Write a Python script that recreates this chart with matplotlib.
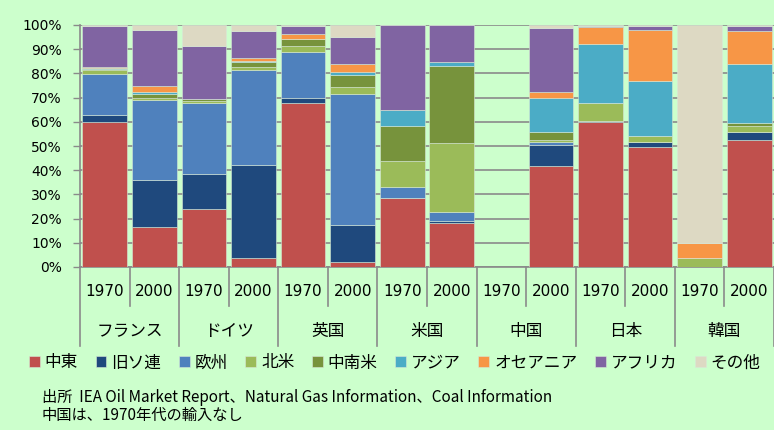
import matplotlib
matplotlib.use("Agg")
import matplotlib.pyplot as plt
import numpy as np

# bar order: France, Germany, UK, US, China, Japan, Korea (1970 / 2000 each)
countries = ["フランス", "ドイツ", "英国", "米国", "中国", "日本", "韓国"]
years = ["1970", "2000"]
regions = ["中東", "旧ソ連", "欧州", "北米", "中南米", "アジア", "オセアニア", "アフリカ", "その他"]

middle_east = [60.0, 16.4, 23.9, 3.9, 67.9, 2.1, 28.4, 18.2, 0, 41.7, 60.0, 49.5, 0, 52.4]
former_ussr = [2.8, 19.5, 14.7, 38.2, 1.8, 15.4, 0, 0.8, 0, 8.9, 0.4, 2.2, 0, 3.5]
europe = [17.1, 33.1, 29.3, 39.3, 19.3, 53.8, 4.6, 3.8, 0, 1.1, 0, 0, 0, 0]
north_america = [1.5, 0.9, 0.7, 1.4, 2.3, 2.9, 11.0, 28.6, 0, 0.7, 7.2, 2.4, 3.9, 2.3]
latin_america = [0.4, 1.7, 0.9, 2.0, 2.8, 5.1, 14.2, 31.8, 0, 3.5, 0, 0, 0, 1.1]
asia = [0.5, 0.7, 0, 0.2, 0, 1.1, 6.6, 1.4, 0, 13.8, 24.7, 22.9, 0, 24.4]
oceania = [0.5, 2.5, 0, 1.2, 2.3, 3.5, 0, 0, 0, 2.7, 7.0, 21.1, 6.0, 14.0]
africa = [16.9, 23.3, 21.7, 11.5, 3.3, 11.3, 35.2, 15.4, 0, 26.2, 0.4, 1.6, 0, 2.0]
others = [0.3, 1.9, 8.8, 2.3, 0.3, 4.8, 0, 0, 0, 1.4, 0.3, 0.3, 90.1, 0.3]

series = [middle_east, former_ussr, europe, north_america, latin_america,
          asia, oceania, africa, others]
colors = ["#C0504D", "#1F497D", "#4F81BD", "#9BBB59", "#77933C",
          "#4BACC6", "#F79646", "#8064A2", "#DDD9C3"]

bg = "#CCFFCC"
grid_c = "#8A8A8A"
jp = ["Noto Sans CJK JP", "DejaVu Sans"]

fig = plt.figure(figsize=(7.74, 4.30), dpi=100, facecolor=bg)
ax = fig.add_axes([80 / 774, 1 - 267 / 430, 1 - 80 / 774, 242 / 430])
ax.set_facecolor(bg)

x = np.arange(len(middle_east))
bottom = np.zeros(len(x))
handles = []
for vals, c, name in zip(series, colors, regions):
    v = np.array(vals, dtype=float)
    b = ax.bar(x, v, bottom=bottom, width=0.9, color=c, edgecolor="#d8e8d8",
               linewidth=0.4, label=name, zorder=3)
    handles.append(b)
    bottom += v

ax.set_xlim(-0.5, len(x) - 0.5)
ax.set_ylim(0, 100)
ax.set_yticks(np.arange(0, 101, 10))
ax.set_yticklabels([f"{t}%" for t in range(0, 101, 10)], fontsize=10, family="DejaVu Sans")
ax.yaxis.grid(True, color=grid_c, linewidth=1.2, zorder=0)
ax.set_axisbelow(True)
ax.tick_params(axis="y", direction="out", length=5, color=grid_c, width=1, pad=8)
ax.tick_params(axis="x", length=0, labelbottom=False)
for s in ["top", "right"]:
    ax.spines[s].set_visible(False)
ax.spines["left"].set_color(grid_c)
ax.spines["left"].set_linewidth(1.2)
ax.spines["bottom"].set_color(grid_c)
ax.spines["bottom"].set_linewidth(1.2)

# two level category axis
trans = ax.get_xaxis_transform()
for i in range(len(x) + 1):
    xb = i - 0.5
    low = -0.16 if i % 2 == 1 else -0.325
    ax.plot([xb, xb], [0, low], transform=trans, color=grid_c, lw=1.2, clip_on=False)
for i in range(len(x)):
    ax.text(i, -0.103, years[i % 2], transform=trans, ha="center", va="center",
            fontsize=11, family="DejaVu Sans")
for k, name in enumerate(countries):
    ax.text(2 * k + 0.5, -0.268, name, transform=trans, ha="center", va="center",
            fontsize=12, family=jp)

fig.legend(handles=handles, labels=regions, loc="center left",
           bbox_to_anchor=(29 / 774, 1 - 363 / 430), ncol=9, frameon=False,
           prop={"family": jp, "size": 12}, handlelength=0.65, handleheight=0.65,
           handletextpad=0.3, columnspacing=1.05, borderaxespad=0, borderpad=0)

fig.text(42 / 774, 1 - 397 / 430,
         "出所  IEA Oil Market Report、Natural Gas Information、Coal Information",
         fontsize=11, family=jp, va="center")
fig.text(42 / 774, 1 - 415 / 430, "中国は、1970年代の輸入なし",
         fontsize=11, family=jp, va="center")

fig.savefig("out.png", dpi=100, facecolor=bg)
